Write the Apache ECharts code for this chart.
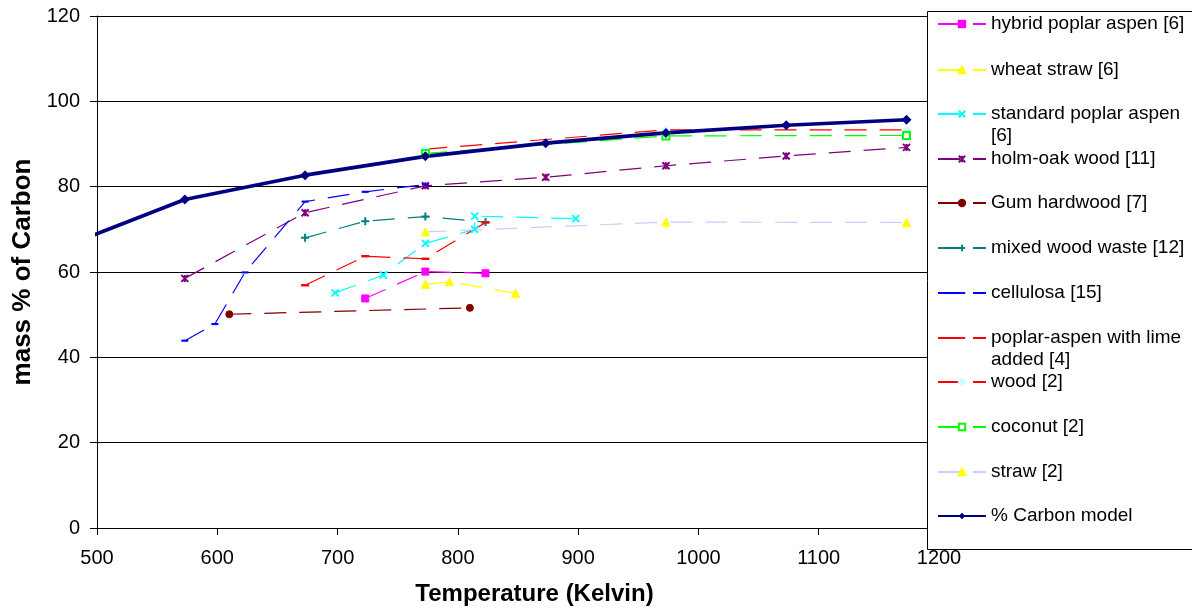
<!DOCTYPE html>
<html><head><meta charset="utf-8">
<script src="https://cdn.jsdelivr.net/npm/echarts@6/dist/echarts.min.js"></script>
<style>html,body{margin:0;padding:0;background:#fff}#c{width:1192px;height:612px}</style>
</head><body><div id="c"></div>
<script>
// ---- data (Temperature in K, mass % of Carbon) ----
const names = ['hybrid poplar aspen [6]','wheat straw [6]','standard poplar aspen [6]','holm-oak wood [11]','Gum hardwood [7]','mixed wood waste [12]','cellulosa [15]','poplar-aspen with lime added [4]','wood [2]','coconut [2]','straw [2]','% Carbon model'];
const hybridT = [723, 773, 823];
const hybridC = [53.8, 60.1, 59.7];
const wheatT = [773, 793, 848];
const wheatC = [57.1, 57.7, 55.0];
const stdPoplarT = [698, 738, 773, 814, 814, 898];
const stdPoplarC = [55.1, 59.3, 66.7, 70.0, 73.1, 72.5];
const holmT = [573, 673, 773, 873, 973, 1073, 1173];
const holmC = [58.5, 73.9, 80.2, 82.2, 84.9, 87.2, 89.2];
const gumT = [610, 810];
const gumC = [50.1, 51.6];
const mixedT = [673, 723, 773, 823];
const mixedC = [68.0, 71.9, 73.0, 71.7];
const celluT = [573, 598, 623, 673, 723, 773];
const celluC = [43.9, 47.8, 59.9, 76.5, 78.8, 80.5];
const limeT = [673, 723, 773, 823];
const limeC = [56.9, 63.7, 63.1, 71.6];
const woodT = [773, 973, 1173];
const woodC = [88.8, 93.3, 93.3];
const coconutT = [773, 973, 1173];
const coconutC = [87.8, 91.9, 92.0];
const strawT = [773, 973, 1173];
const strawC = [69.4, 71.7, 71.6];
const modelT = [473, 573, 673, 773, 873, 973, 1073, 1173];
const modelC = [66.0, 77.0, 82.7, 87.1, 90.2, 92.6, 94.4, 95.7];
const xTicks = [500, 600, 700, 800, 900, 1000, 1100, 1200];
const yTicks = [0, 20, 40, 60, 80, 100, 120];

const FONT = 'Liberation Sans, Arial, sans-serif';
const pairs = (t, c) => t.map((v, i) => [v, c[i]]);
const DASH = [22, 13];
const X_PATH = 'path://M0,0L10,10M10,0L0,10';
const STAR_PATH = 'path://M0,0L10,10M10,0L0,10M5,0L5,10';
const PLUS_PATH = 'path://M5,0L5,10M0,5L10,5';
const DASH_PATH = 'path://M0,0M10,10M0,3.5L10,3.5L10,6.5L0,6.5Z';

function dashed(name, t, c, color, symbol, size, extra) {
  const s = {
    name, type: 'line', data: pairs(t, c), symbol, symbolSize: size,
    lineStyle: { color, width: 1.2, type: DASH },
    itemStyle: { color, borderColor: color, borderWidth: 1 },
    emphasis: { disabled: true }, clip: true, animation: false
  };
  return Object.assign(s, extra || {});
}

const series = [
  dashed(names[0], hybridT, hybridC, '#FF00FF', 'rect', 7),
  dashed(names[1], wheatT, wheatC, '#FFFF00', 'triangle', 8),
  dashed(names[2], stdPoplarT, stdPoplarC, '#00FFFF', X_PATH, 7, { itemStyle: { color: '#00FFFF', borderColor: '#00FFFF', borderWidth: 2 } }),
  dashed(names[3], holmT, holmC, '#800080', STAR_PATH, 7, { itemStyle: { color: '#800080', borderColor: '#800080', borderWidth: 2 } }),
  dashed(names[4], gumT, gumC, '#800000', 'circle', 7),
  dashed(names[5], mixedT, mixedC, '#008080', PLUS_PATH, 8, { itemStyle: { color: '#008080', borderColor: '#008080', borderWidth: 2 } }),
  dashed(names[6], celluT, celluC, '#0000FF', DASH_PATH, 7, { itemStyle: { color: '#0000FF', borderWidth: 0 } }),
  dashed(names[7], limeT, limeC, '#FF0000', DASH_PATH, 8, { itemStyle: { color: '#FF0000', borderWidth: 0 } }),
  dashed(names[8], woodT, woodC, '#FF0000', 'diamond', 8, { itemStyle: { color: '#CCFFFF', borderColor: '#CCFFFF', borderWidth: 1 } }),
  dashed(names[9], coconutT, coconutC, '#00FF00', 'emptyRect', 7, { itemStyle: { color: '#00FF00', borderColor: '#00FF00', borderWidth: 1.5 } }),
  dashed(names[10], strawT, strawC, '#CCCCFF', 'triangle', 8, { itemStyle: { color: '#FFFF00', borderColor: '#FFFF00', borderWidth: 1 } }),
  {
    name: names[11], type: 'line', data: pairs(modelT, modelC), symbol: 'diamond', symbolSize: 10,
    lineStyle: { color: '#000080', width: 3.6 }, itemStyle: { color: '#000080' },
    emphasis: { disabled: true }, clip: true, animation: false, z: 3
  }
];

const centers = [23, 69, 113, 158, 202, 247, 292, 337, 381, 426, 471, 515];
const twoLine = { 2: ' \nstandard poplar aspen\n[6]', 7: ' \npoplar-aspen with lime\nadded [4]' };
const legends = names.map((n, i) => ({
  data: [n], left: 937, top: centers[i] - (twoLine[i] ? 32 : 10), orient: 'vertical', padding: 0,
  itemWidth: 48, itemHeight: 8, itemGap: 0, selectedMode: false, z: 5,
  formatter: twoLine[i] ? () => twoLine[i] : '{name}',
  textStyle: { fontFamily: FONT, fontSize: 19, color: '#000', lineHeight: 22 }
}));

const chart = echarts.init(document.getElementById('c'), null, { renderer: 'canvas' });
chart.setOption({
  animation: false,
  backgroundColor: '#fff',
  grid: { left: 97, right: 253, top: 16, bottom: 84, containLabel: false },
  xAxis: {
    type: 'value', min: xTicks[0], max: xTicks[xTicks.length - 1], interval: 100,
    name: 'Temperature (Kelvin)', nameLocation: 'middle', nameGap: 54,
    nameTextStyle: { fontFamily: FONT, fontSize: 24, fontWeight: 'bold', color: '#000', padding: [0, 0, 0, 33] },
    axisLine: { show: true, onZero: false, lineStyle: { color: '#000', width: 1 } },
    axisTick: { show: true, length: 7, lineStyle: { color: '#000' } },
    axisLabel: { fontFamily: FONT, fontSize: 20, color: '#000', margin: 20, formatter: v => String(v) },
    splitLine: { show: false }
  },
  yAxis: {
    type: 'value', min: yTicks[0], max: yTicks[yTicks.length - 1], interval: 20,
    name: 'mass % of Carbon', nameLocation: 'middle', nameGap: 52, nameRotate: 90,
    nameTextStyle: { fontFamily: FONT, fontSize: 26, fontWeight: 'bold', color: '#000' },
    axisLine: { show: true, lineStyle: { color: '#000', width: 1 } },
    axisTick: { show: true, length: 7, lineStyle: { color: '#000' } },
    axisLabel: { fontFamily: FONT, fontSize: 20, color: '#000', margin: 17, formatter: v => String(v) },
    splitLine: { show: true, lineStyle: { color: '#000', width: 1 } }
  },
  graphic: [{
    type: 'rect', z: 4, silent: true,
    shape: { x: 927.5, y: 11.5, width: 300, height: 538 },
    style: { fill: '#fff', stroke: '#000', lineWidth: 1 }
  }],
  legend: legends,
  series
});
</script></body></html>
